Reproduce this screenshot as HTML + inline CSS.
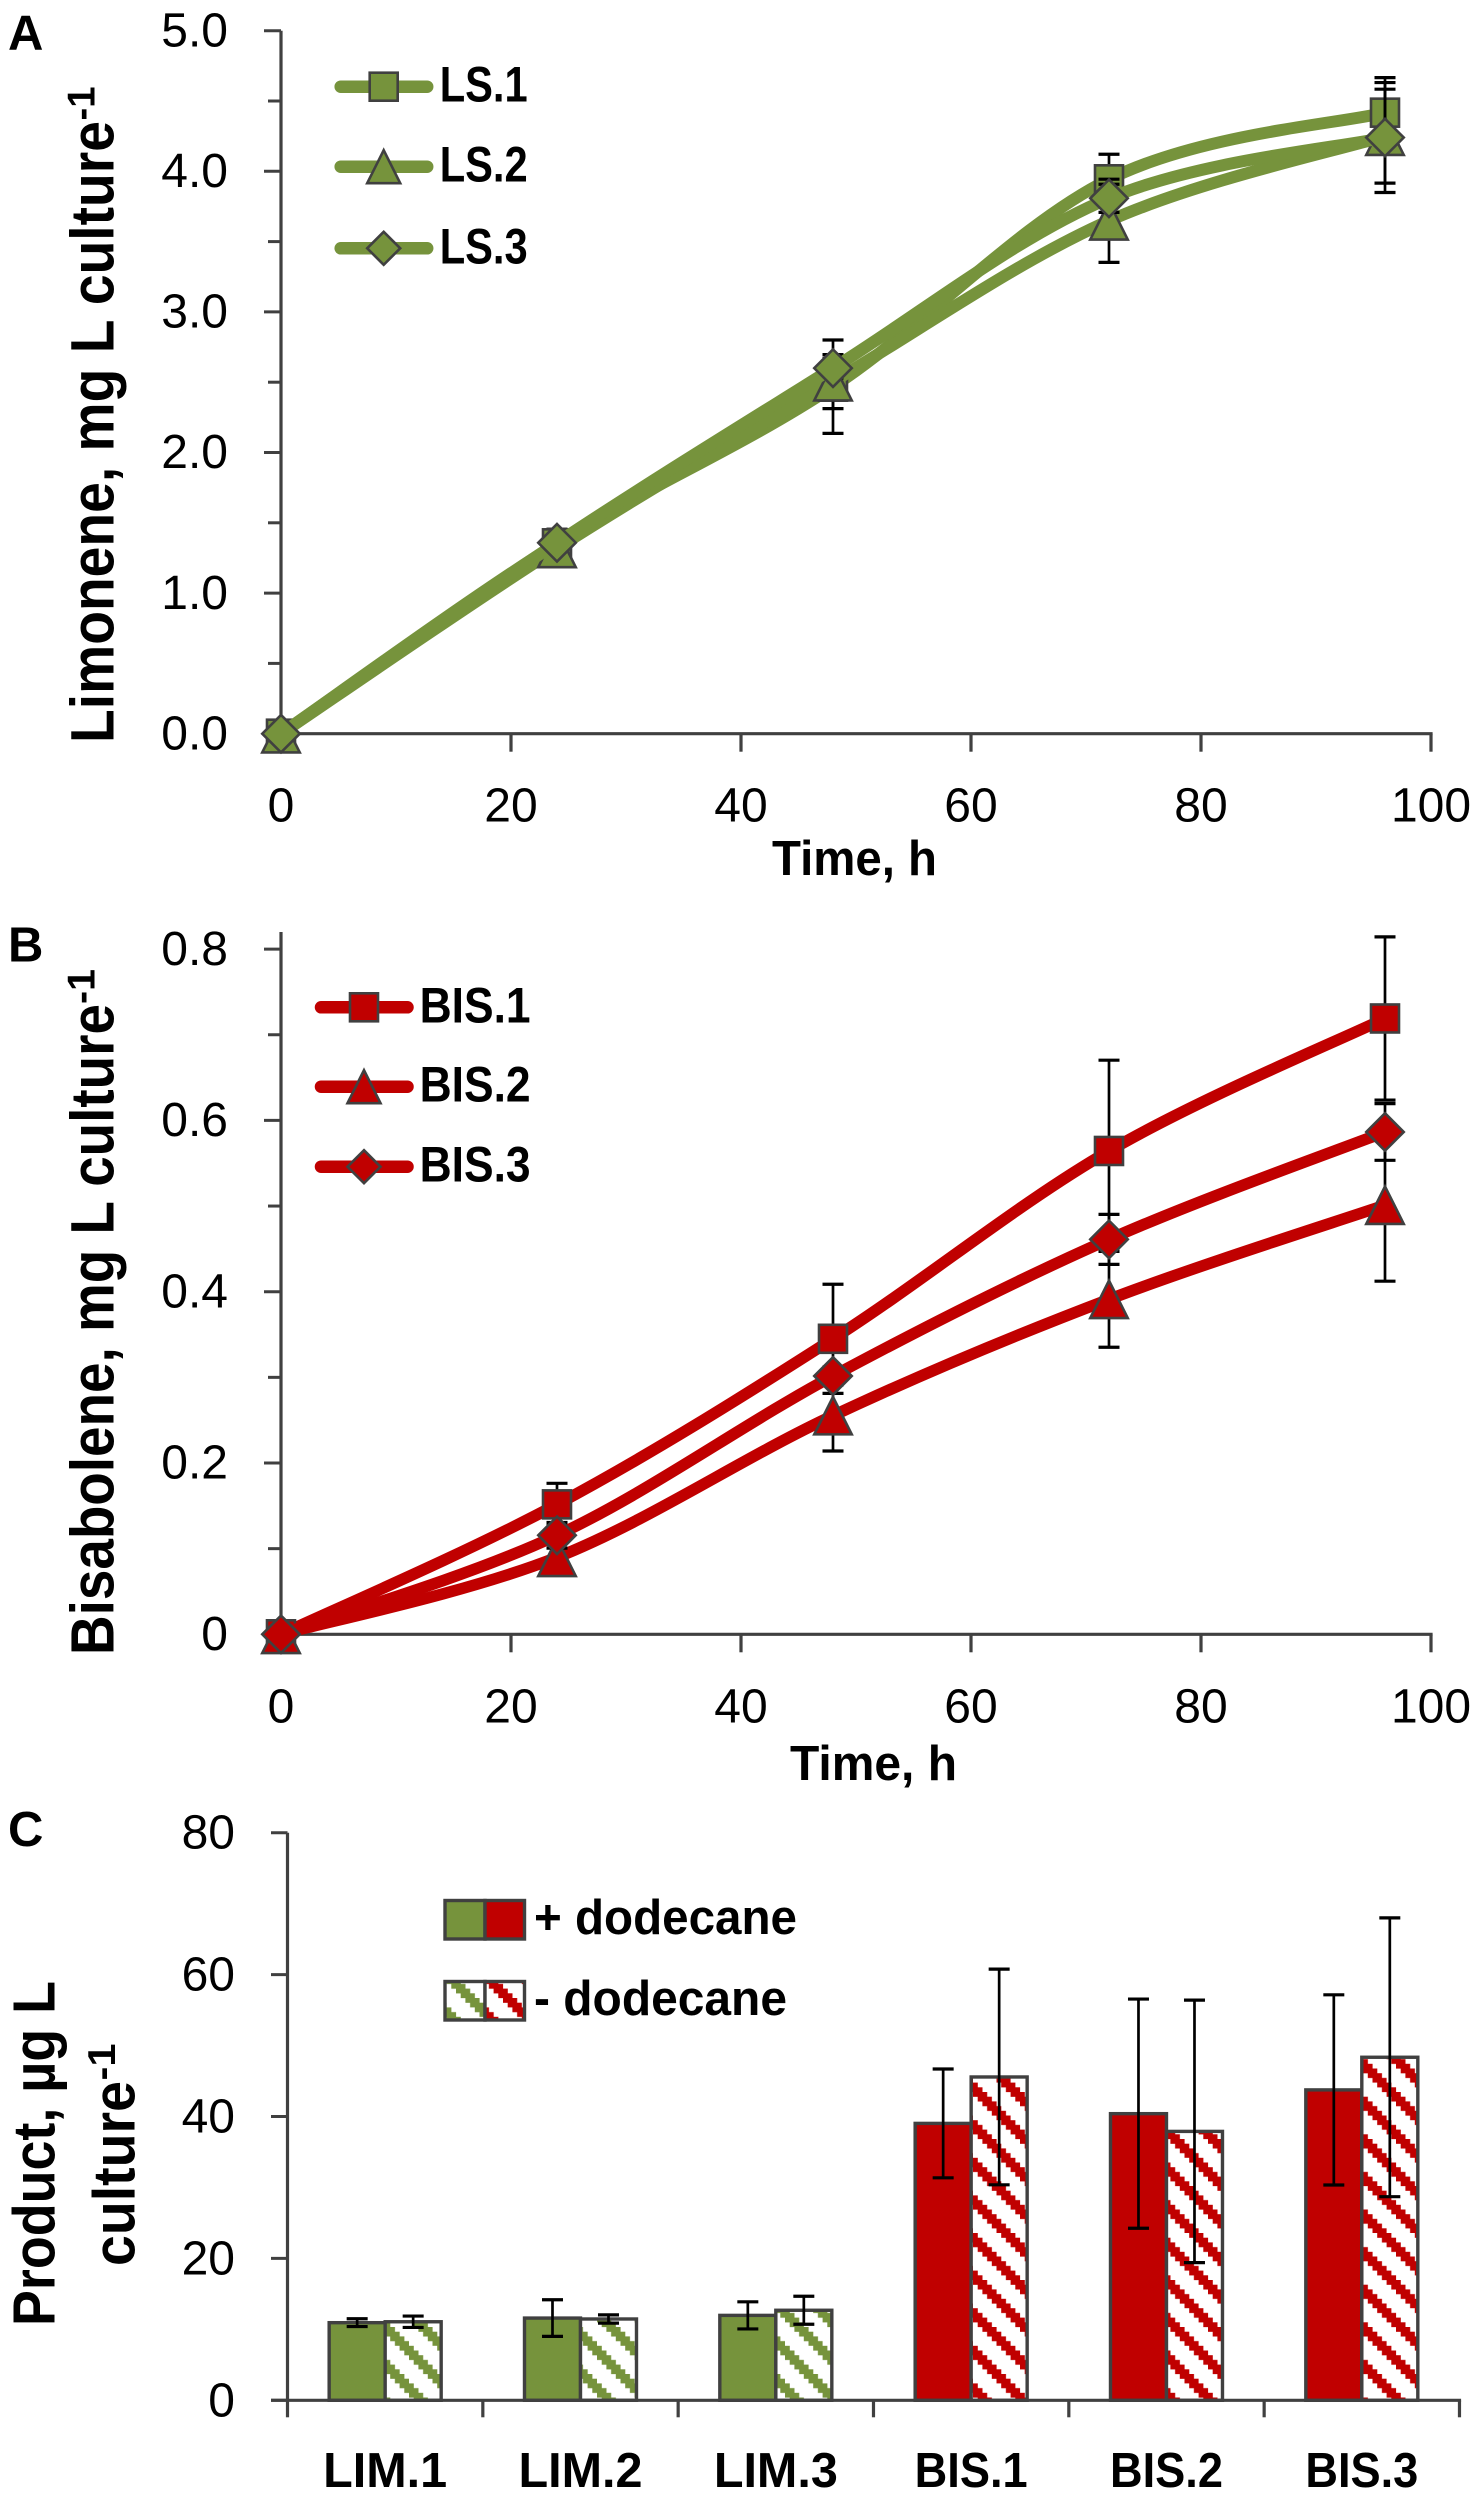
<!DOCTYPE html>
<html lang="en">
<head>
<meta charset="utf-8">
<title>Limonene and bisabolene production</title>
<style>
html,body{margin:0;padding:0;background:#fff}
svg{display:block}
text{font-family:"Liberation Sans",Arial,sans-serif;fill:#000}
.b{font-weight:700}
</style>
</head>
<body>
<svg id="figure" xmlns="http://www.w3.org/2000/svg" width="1482" height="2500" viewBox="0 0 1482 2500">
<defs>
<pattern id="hatch-green" width="8" height="8" patternUnits="userSpaceOnUse" patternTransform="translate(973 2233) scale(4.7)">
<rect width="8" height="8" fill="#fff"/><path class="hatch-cells" fill="#76933C"/>
</pattern>
<pattern id="hatch-red" width="8" height="8" patternUnits="userSpaceOnUse" patternTransform="translate(973 2233) scale(4.7)">
<rect width="8" height="8" fill="#fff"/><path class="hatch-cells" fill="#C00000"/>
</pattern>
</defs>

<g id="panel-a">
<text class="b" x="8" y="49.3" font-size="49">A</text>
<text class="b" transform="translate(113.4,743) rotate(-90)" font-size="61" textLength="622" lengthAdjust="spacingAndGlyphs">Limonene, mg L culture</text>
<text class="b" transform="translate(94.5,120.5) rotate(-90)" font-size="39" textLength="34" lengthAdjust="spacingAndGlyphs">-1</text>
<text class="b" x="772" y="875" font-size="49" textLength="165" lengthAdjust="spacingAndGlyphs">Time, h</text>
</g>

<g id="panel-b">
<text class="b" x="8" y="961.7" font-size="49">B</text>
<text class="b" transform="translate(113.4,1655) rotate(-90)" font-size="61" textLength="651" lengthAdjust="spacingAndGlyphs">Bisabolene, mg L culture</text>
<text class="b" transform="translate(94.5,1004) rotate(-90)" font-size="39" textLength="35" lengthAdjust="spacingAndGlyphs">-1</text>
<text class="b" x="790" y="1780" font-size="49" textLength="167" lengthAdjust="spacingAndGlyphs">Time, h</text>
</g>

<g id="panel-c">
<text class="b" x="8" y="1846" font-size="49">C</text>
<text class="b" transform="translate(54.3,2326) rotate(-90)" font-size="59" textLength="345" lengthAdjust="spacingAndGlyphs">Product, µg L</text>
<text class="b" transform="translate(134.7,2266) rotate(-90)" font-size="59" textLength="185" lengthAdjust="spacingAndGlyphs">culture</text>
<text class="b" transform="translate(115,2080.5) rotate(-90)" font-size="39" textLength="37" lengthAdjust="spacingAndGlyphs">-1</text>
</g>
</svg>

<script>
// ---------- Panel A data ----------
const timeHours = [0, 24, 48, 72, 96];
const ls1Values = [0, 1.354, 2.468, 3.943, 4.417];
const ls2Values = [0, 1.318, 2.504, 3.648, 4.25];
const ls3Values = [0, 1.358, 2.6, 3.808, 4.24];
const ls1Errors = [0, 0.1, 0.332, 0.178, 0.249];
const ls2Errors = [0, 0.05, 0.192, 0.296, 0.334];
const ls3Errors = [0, 0.04, 0.07, 0.1, 0.391];
const limoneneTicks = [0, 1, 2, 3, 4, 5];
const limoneneTickLabels = ['0.0', '1.0', '2.0', '3.0', '4.0', '5.0'];
const limoneneMinorTicks = [0.5, 1.5, 2.5, 3.5, 4.5];

// ---------- Panel B data ----------
const bis1Values = [0, 0.1517, 0.345, 0.5643, 0.719];
const bis2Values = [0, 0.0899, 0.2553, 0.3911, 0.501];
const bis3Values = [0, 0.1156, 0.3016, 0.4611, 0.5865];
const bis1Errors = [0, 0.0246, 0.0637, 0.106, 0.0953];
const bis2Errors = [0, 0.02, 0.0413, 0.056, 0.0887];
const bis3Errors = [0, 0.015, 0.0105, 0.0292, 0.0331];
const bisaboleneTicks = [0, 0.2, 0.4, 0.6, 0.8];
const bisaboleneTickLabels = ['0', '0.2', '0.4', '0.6', '0.8'];
const bisaboleneMinorTicks = [0.1, 0.3, 0.5, 0.7];

// ---------- Shared time axis ----------
const timeTicks = [0, 20, 40, 60, 80, 100];
const timeTickLabels = ['0', '20', '40', '60', '80', '100'];

// ---------- Panel C data ----------
const productCategories = ['LIM.1', 'LIM.2', 'LIM.3', 'BIS.1', 'BIS.2', 'BIS.3'];
const plusDodecane = [10.94, 11.59, 11.97, 39.03, 40.4, 43.75];
const minusDodecane = [11.07, 11.46, 12.69, 45.57, 37.9, 48.35];
const plusDodecaneErrors = [0.55, 2.58, 1.91, 7.67, 16.15, 13.4];
const minusDodecaneErrors = [0.8, 0.58, 1.97, 15.2, 18.5, 19.65];
const productTicks = [0, 20, 40, 60, 80];
const productTickLabels = ['0', '20', '40', '60', '80'];

// ---------- Legend data ----------
const limoneneNames = ['LS.1', 'LS.2', 'LS.3'];
const bisaboleneNames = ['BIS.1', 'BIS.2', 'BIS.3'];

// ---------- Helpers ----------
const NS = 'http://www.w3.org/2000/svg';
const AXIS = '#404040';
const GREEN = '#76933C';
const RED = '#C00000';

function make(tag, attrs, parent) {
  const el = document.createElementNS(NS, tag);
  for (const k in attrs) el.setAttribute(k, attrs[k]);
  parent.appendChild(el);
  return el;
}

// Hatch cells for the stepped diagonal stripes
let hatch = '';
for (let i = 0; i < 8; i++) {
  for (let j = 0; j < 3; j++) {
    hatch += 'M' + i + ' ' + ((i + j) % 8) + 'h1.02v1.02h-1.02z';
  }
}
document.querySelectorAll('.hatch-cells').forEach(function (p) { p.setAttribute('d', hatch); });

function smoothPath(xs, ys) {
  let d = 'M' + xs[0] + ' ' + ys[0];
  for (let i = 0; i < xs.length - 1; i++) {
    const p = i > 0 ? i - 1 : i;
    const n = i + 2 < xs.length ? i + 2 : i + 1;
    const c1x = xs[i] + (xs[i + 1] - xs[p]) / 6;
    const c1y = ys[i] + (ys[i + 1] - ys[p]) / 6;
    const c2x = xs[i + 1] - (xs[n] - xs[i]) / 6;
    const c2y = ys[i + 1] - (ys[n] - ys[i]) / 6;
    d += 'C' + c1x + ' ' + c1y + ' ' + c2x + ' ' + c2y + ' ' + xs[i + 1] + ' ' + ys[i + 1];
  }
  return d;
}

function markerShape(kind, cx, cy, size, color, parent) {
  const style = { fill: color, stroke: AXIS, 'stroke-width': 2.6, 'stroke-linejoin': 'miter' };
  const r = size / 2;
  if (kind === 'square') {
    return make('rect', Object.assign({ x: cx - 14, y: cy - 14, width: 28, height: 28 }, style), parent);
  }
  if (kind === 'triangle') {
    return make('polygon', Object.assign({ points: cx + ',' + (cy - r) + ' ' + (cx + r) + ',' + (cy + r) + ' ' + (cx - r) + ',' + (cy + r) }, style), parent);
  }
  return make('polygon', Object.assign({ points: cx + ',' + (cy - r) + ' ' + (cx + r) + ',' + cy + ' ' + cx + ',' + (cy + r) + ' ' + (cx - r) + ',' + cy }, style), parent);
}

function errorBar(x, yHi, yLo, parent) {
  const g = make('g', { stroke: '#000', fill: 'none' }, parent);
  make('line', { x1: x, x2: x, y1: yHi, y2: yLo, 'stroke-width': 2.7 }, g);
  make('line', { x1: x - 10.5, x2: x + 10.5, y1: yHi, y2: yHi, 'stroke-width': 3.2 }, g);
  make('line', { x1: x - 10.5, x2: x + 10.5, y1: yLo, y2: yLo, 'stroke-width': 3.2 }, g);
  return g;
}

function axisLine(x1, y1, x2, y2, width, parent) {
  return make('line', { x1: x1, y1: y1, x2: x2, y2: y2, stroke: AXIS, 'stroke-width': width }, parent);
}

function drawLinePanel(cfg) {
  const root = document.getElementById(cfg.id);
  const sx = function (t) { return 281 + t * 11.5; };
  const sy = cfg.sy;

  const yAxis = axisLine(281, cfg.axisTop, 281, sy(0), 3.2, root);
  
  
  const xAxis = axisLine(279.4, sy(0), sx(100) + 1.6, sy(0), 3.2, root);
  
  

  cfg.yTicks.forEach(function (v, i) {
    const t = axisLine(264, sy(v), 281, sy(v), 3, root);
    
    
    const label = make('text', { x: 228, y: sy(v) + 15.7, 'font-size': 48, 'text-anchor': 'end' }, root);
    label.textContent = cfg.yLabels[i];
    
    
  });
  cfg.yMinor.forEach(function (v) {
    const t = axisLine(268, sy(v), 281, sy(v), 3, root);
    
    
  });
  timeTicks.forEach(function (v, i) {
    const t = axisLine(sx(v), sy(0), sx(v), sy(0) + 18, 3.2, root);
    
    
    const label = make('text', { x: sx(v), y: sy(0) + 88, 'font-size': 48, 'text-anchor': 'middle' }, root);
    label.textContent = timeTickLabels[i];
    
    
  });

  const kinds = ['square', 'triangle', 'diamond'];
  cfg.series.forEach(function (values, s) {
    const group = make('g', {}, root);
    
    
    const xs = timeHours.map(sx);
    const ys = values.map(sy);
    timeHours.forEach(function (t, i) {
      const e = cfg.errors[s][i];
      if (e > 0) {
        const bar = errorBar(sx(t), sy(values[i] + e), sy(values[i] - e), group);
        
        
      }
    });
    const line = make('path', { d: smoothPath(xs, ys), fill: 'none', stroke: cfg.color, 'stroke-width': cfg.lineWidth, 'stroke-linecap': 'round' }, group);
    
    
    timeHours.forEach(function (t, i) {
      const m = markerShape(kinds[s], sx(t), sy(values[i]), 37.5, cfg.color, group);
      
      
    });

    // legend entry
    const leg = make('g', {}, root);
    
    
    const ly = cfg.legendY[s];
    const lk = make('line', { x1: cfg.legendX + 6, x2: cfg.legendX + 92.5, y1: ly, y2: ly, stroke: cfg.color, 'stroke-width': 12.5, 'stroke-linecap': 'round' }, leg);
    
    
    const lm = markerShape(kinds[s], cfg.legendX + 49, ly, 33, cfg.color, leg);
    
    
    const lt = make('text', { x: cfg.legendX + cfg.legendTextDx, y: ly + 15, 'font-size': 50, 'font-weight': 700, textLength: cfg.legendTextLen, lengthAdjust: 'spacingAndGlyphs' }, leg);
    lt.textContent = cfg.names[s];
    
    
  });
}

drawLinePanel({
  id: 'panel-a', prefix: 'limonene',
  sy: function (v) { return 733.7 - v * 140.6; },
  axisTop: 30.7,
  yTicks: limoneneTicks, yLabels: limoneneTickLabels, yMinor: limoneneMinorTicks,
  series: [ls1Values, ls2Values, ls3Values],
  errors: [ls1Errors, ls2Errors, ls3Errors],
  names: limoneneNames, color: GREEN, lineWidth: 12,
  legendX: 334.7, legendY: [86.7, 166.7, 248.3], legendTextDx: 105, legendTextLen: 88
});

drawLinePanel({
  id: 'panel-b', prefix: 'bisabolene',
  sy: function (v) { return 1634.3 - v * 856.5; },
  axisTop: 932,
  yTicks: bisaboleneTicks, yLabels: bisaboleneTickLabels, yMinor: bisaboleneMinorTicks,
  series: [bis1Values, bis2Values, bis3Values],
  errors: [bis1Errors, bis2Errors, bis3Errors],
  names: bisaboleneNames, color: RED, lineWidth: 11.5,
  legendX: 315, legendY: [1007.3, 1086.7, 1166.7], legendTextDx: 104.6, legendTextLen: 111
});

// ---------- Panel C ----------
(function () {
  const root = document.getElementById('panel-c');
  const catW = 195.33;
  const x0 = 287.5;
  const barW = 56;
  const sy = function (v) { return 2400.3 - v * 7.095; };
  const catX = function (i) { return x0 + i * catW; };

  productCategories.forEach(function (name, i) {
    const c = catX(i) + catW / 2;
    const colorKey = name.indexOf('LIM') === 0;
    const solid = make('rect', { x: c - barW, y: sy(plusDodecane[i]), width: barW, height: sy(0) - sy(plusDodecane[i]), fill: colorKey ? GREEN : RED, stroke: AXIS, 'stroke-width': 3.4 }, root);
    
    
    const hatched = make('rect', { x: c, y: sy(minusDodecane[i]), width: barW, height: sy(0) - sy(minusDodecane[i]), fill: colorKey ? 'url(#hatch-green)' : 'url(#hatch-red)', stroke: AXIS, 'stroke-width': 3.4 }, root);
    
    
  });

  const yAxis = axisLine(287.5, sy(80), 287.5, sy(0), 3.2, root);
  
  
  const xAxis = axisLine(271, sy(0), catX(6) + 1.6, sy(0), 3.2, root);
  
  

  productTicks.forEach(function (v, i) {
    const t = axisLine(271, sy(v), 287.5, sy(v), 3, root);
    
    
    const label = make('text', { x: 235, y: sy(v) + 16, 'font-size': 48, 'text-anchor': 'end' }, root);
    label.textContent = productTickLabels[i];
    
    
  });

  for (let i = 0; i <= productCategories.length; i++) {
    const t = axisLine(catX(i), sy(0), catX(i), sy(0) + 17, 3.2, root);
    
    
  }

  productCategories.forEach(function (name, i) {
    const c = catX(i) + catW / 2;
    const e1 = errorBar(c - barW / 2, sy(plusDodecane[i] + plusDodecaneErrors[i]), sy(plusDodecane[i] - plusDodecaneErrors[i]), root);
    
    
    const e2 = errorBar(c + barW / 2, sy(minusDodecane[i] + minusDodecaneErrors[i]), sy(minusDodecane[i] - minusDodecaneErrors[i]), root);
    
    
    const label = make('text', { x: c, y: 2487, 'font-size': 49, 'font-weight': 700, 'text-anchor': 'middle', textLength: name.indexOf('LIM') === 0 ? 124 : 113, lengthAdjust: 'spacingAndGlyphs' }, root);
    label.textContent = name;
    
    
  });
})();
</script>

<svg style="position:absolute;left:0;top:0;pointer-events:none" width="1482" height="2500" viewBox="0 0 1482 2500" xmlns="http://www.w3.org/2000/svg">
<g>
<rect x="445" y="1900.5" width="40" height="38.5" fill="#76933C" stroke="#404040" stroke-width="3.4"/>
<rect x="485" y="1900.5" width="39.5" height="38.5" fill="#C00000" stroke="#404040" stroke-width="3.4"/>
<text class="b" x="534" y="1933.8" font-size="49" textLength="263" lengthAdjust="spacingAndGlyphs">+ dodecane</text>
</g>
<g>
<rect x="445" y="1981.5" width="40" height="38.5" fill="url(#hatch-green)" stroke="#404040" stroke-width="3.4"/>
<rect x="485" y="1981.5" width="39.5" height="38.5" fill="url(#hatch-red)" stroke="#404040" stroke-width="3.4"/>
<text class="b" x="534" y="2015" font-size="49" textLength="253" lengthAdjust="spacingAndGlyphs">- dodecane</text>
</g>
</svg>
</body>
</html>
